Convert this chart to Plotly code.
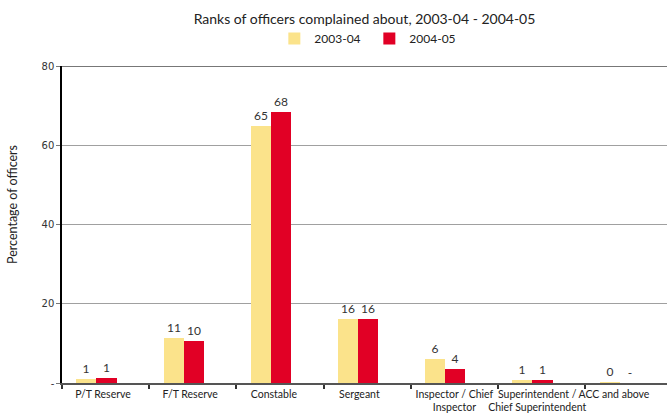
import plotly.graph_objects as go

# Ranks of officers complained about (percentage of officers)
categories = [
    "P/T Reserve",
    "F/T Reserve",
    "Constable",
    "Sergeant",
    "Inspector / Chief<br>Inspector",
    "Superintendent /<br>Chief Superintendent",
    "ACC and above",
]
series_names = ["2003-04", "2004-05"]
values_2003_04 = [0.95, 11.3, 64.8, 16.1, 6.0, 0.7, 0.1]
values_2004_05 = [1.2, 10.5, 68.3, 16.1, 3.5, 0.8, None]  # None: no figure ("-")

y_ticks = [0, 20, 40, 60, 80]
y_tick_text = ["-", "20", "40", "60", "80"]

YELLOW = "#FBE38B"
RED = "#E10025"
TEXT = "#333333"

x = list(range(len(categories)))


def labels(vals):
    return ["-" if v is None else f"{round(v):d}" for v in vals]


fig = go.Figure()
bar_w = 0.23
for name, vals, color, off in [
    (series_names[0], values_2003_04, YELLOW, -0.335),
    (series_names[1], values_2004_05, RED, -0.335 + bar_w),
]:
    fig.add_trace(go.Bar(
        name=name,
        x=x,
        y=[0 if v is None else v for v in vals],
        width=bar_w,
        offset=off,
        marker=dict(color=color, line=dict(width=0)),
        text=labels(vals),
        textposition="outside",
        cliponaxis=False,
        textfont=dict(family="Lato", size=12, color=TEXT),
    ))

# label anchors sit slightly left of each category centre
label_pos = [i + d for i, d in enumerate([-0.03, -0.03, -0.07, -0.09, 0.0, -0.05, -0.17])]

fig.update_layout(
    width=667,
    height=416,
    margin=dict(l=62, r=0, t=66, b=33),
    paper_bgcolor="white",
    plot_bgcolor="white",
    bargap=0,
    showlegend=True,
    title=dict(
        text="Ranks of officers complained about, 2003-04 - 2004-05",
        x=0.5, xref="paper", xanchor="center",
        y=1 - 19 / 416, yref="container", yanchor="middle",
        font=dict(family="Lato", size=14, color="#222222"),
    ),
    legend=dict(
        orientation="h",
        x=0.508, xref="paper", xanchor="center",
        y=1 - 38.5 / 416, yref="container", yanchor="middle",
        font=dict(family="Lato", size=12, color="#222222"),
        itemwidth=30,
        entrywidth=50,
        traceorder="normal",
        bgcolor="rgba(0,0,0,0)",
    ),
    font=dict(family="Lato", color=TEXT),
)

fig.update_xaxes(
    range=[-0.5, (667 - 62) / 87.2 - 0.5],
    tickmode="array",
    tickvals=label_pos,
    ticktext=categories,
    tickangle=0,
    ticks="",
    tickfont=dict(family="Lato", size=10.5, color="#222222"),
    showline=True,
    linecolor="#555555",
    linewidth=2,
    showgrid=False,
    zeroline=False,
    automargin=False,
    minor=dict(ticks="outside", tick0=0.5, dtick=1, ticklen=4,
               tickcolor="#333333", tickwidth=1.5, showgrid=False),
)

fig.update_yaxes(
    range=[0, 80],
    tickmode="array",
    tickvals=y_ticks,
    ticktext=y_tick_text,
    ticks="outside",
    ticklen=4,
    tickcolor="#777777",
    tickfont=dict(family="DejaVu Sans", size=10, color="#333333"),
    showline=True,
    linecolor="#000000",
    linewidth=1.5,
    showgrid=True,
    gridcolor="#A0A0A0",
    gridwidth=1,
    zeroline=False,
    automargin=False,
)

# heavier rule along the top of the scale
fig.add_hline(y=80, line=dict(color="#777777", width=2), layer="below")

fig.add_annotation(
    text="Percentage of officers",
    textangle=-90,
    xref="paper", x=-(62 - 12) / 605, xanchor="center",
    yref="paper", y=(383 - 205) / 317, yanchor="middle",
    showarrow=False,
    font=dict(family="Lato", size=12.5, color="#222222"),
)

fig.write_html("out.html")
